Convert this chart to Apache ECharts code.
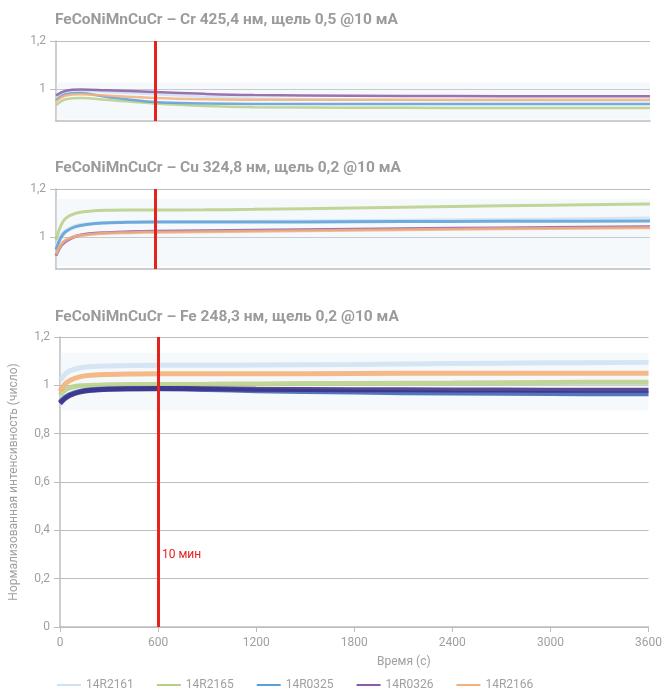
<!DOCTYPE html>
<html>
<head>
<meta charset="utf-8">
<script src="https://cdn.jsdelivr.net/npm/echarts@6/dist/echarts.min.js"></script>
<style>
  html, body { margin: 0; padding: 0; background: #fff; }
  #main { width: 665px; height: 694px; }
</style>
</head>
<body>
<div id="main"></div>
<script>
// названия образцов
var sampleNames = ['14R2161', '14R2165', '14R0325', '14R0326', '14R2166']
var panelTitles = [
  'FeCoNiMnCuCr – Cr 425,4 нм, щель 0,5 @10 мА',
  'FeCoNiMnCuCr – Cu 324,8 нм, щель 0,2 @10 мА',
  'FeCoNiMnCuCr – Fe 248,3 нм, щель 0,2 @10 мА'
]
var markerTime = 600
var markerLabel = '10 мин'

// Cr 425,4
var timeCr = [0, 60, 150, 300, 600, 900, 1200, 1800, 2400, 3000, 3600]
var cr14R2161 = [0.970, 0.990, 0.995, 0.990, 0.980, 0.970, 0.963, 0.958, 0.956, 0.955, 0.955]
var cr14R2165 = [0.935, 0.960, 0.965, 0.958, 0.942, 0.932, 0.927, 0.925, 0.924, 0.924, 0.924]
var cr14R0325 = [0.955, 0.980, 0.985, 0.970, 0.948, 0.942, 0.940, 0.940, 0.940, 0.940, 0.940]
var cr14R0326 = [0.975, 0.995, 1.000, 0.997, 0.990, 0.982, 0.977, 0.974, 0.973, 0.972, 0.972]
var cr14R2166 = [0.950, 0.975, 0.980, 0.975, 0.965, 0.960, 0.958, 0.958, 0.958, 0.958, 0.958]

// Cu 324,8
var timeCu = [0, 30, 60, 120, 200, 300, 450, 600, 900, 1200, 1800, 2400, 3000, 3600]
var cu14R2161 = [0.960, 1.010, 1.030, 1.050, 1.058, 1.062, 1.064, 1.065, 1.066, 1.067, 1.070, 1.073, 1.076, 1.080]
var cu14R2165 = [0.990, 1.050, 1.080, 1.100, 1.108, 1.112, 1.113, 1.113, 1.114, 1.116, 1.122, 1.128, 1.133, 1.138]
var cu14R0325 = [0.950, 1.000, 1.025, 1.045, 1.055, 1.060, 1.063, 1.064, 1.064, 1.064, 1.065, 1.066, 1.067, 1.068]
var cu14R0326 = [0.925, 0.965, 0.985, 1.005, 1.015, 1.020, 1.024, 1.026, 1.028, 1.030, 1.034, 1.038, 1.041, 1.044]
var cu14R2166 = [0.930, 0.970, 0.990, 1.005, 1.012, 1.017, 1.020, 1.022, 1.024, 1.026, 1.030, 1.034, 1.037, 1.040]

// Fe 248,3
var timeFe = [0, 30, 60, 120, 200, 300, 450, 600, 900, 1200, 1800, 2400, 3000, 3600]
var fe14R2161 = [1.020, 1.045, 1.060, 1.072, 1.078, 1.080, 1.082, 1.083, 1.083, 1.084, 1.086, 1.090, 1.093, 1.095]
var fe14R2165 = [0.960, 0.980, 0.990, 0.998, 1.000, 1.002, 1.003, 1.003, 1.004, 1.006, 1.008, 1.010, 1.012, 1.013]
var fe14R0325 = [0.930, 0.950, 0.962, 0.975, 0.982, 0.985, 0.986, 0.986, 0.983, 0.978, 0.972, 0.968, 0.966, 0.965]
var fe14R0326 = [0.925, 0.945, 0.958, 0.972, 0.980, 0.984, 0.986, 0.987, 0.986, 0.984, 0.982, 0.981, 0.980, 0.980]
var fe14R2166 = [0.975, 1.005, 1.020, 1.035, 1.042, 1.045, 1.047, 1.048, 1.048, 1.048, 1.049, 1.050, 1.050, 1.050]

// бледная полоса шума
var bandCr = [0.875, 1.03]
var bandCu = [0.88, 1.16]
var bandFe = [0.895, 1.135]

var colors = ['#cfe2f2', '#b8cf86', '#5b9fd6', '#8a5aa6', '#f5b07a']
var colorsFe = ['#cfe2f2', '#b8cf86', '#3560b0', '#3b2d86', '#f5ad72']

var panels = [
  { time: timeCr, data: [cr14R2161, cr14R2165, cr14R0325, cr14R0326, cr14R2166], band: bandCr, width: 2.5, colors: colors },
  { time: timeCu, data: [cu14R2161, cu14R2165, cu14R0325, cu14R0326, cu14R2166], band: bandCu, width: 3, colors: colors },
  { time: timeFe, data: [fe14R2161, fe14R2165, fe14R0325, fe14R0326, fe14R2166], band: bandFe, width: 5, colors: colorsFe }
]

var gray = '#a0a0a0'
var lineGray = '#bdbdbd'
var fmt = function (v) { return String(Math.round(v * 10) / 10).replace('.', ',') }

var myChart = echarts.init(document.getElementById('main'))

var grids = [
  { left: 56, width: 594, top: 41, height: 80 },
  { left: 56, width: 594, top: 189, height: 80 },
  { left: 56, width: 594, top: 337, height: 290 }
]

var xAxes = grids.map(function (g, i) {
  var last = i === 2
  return {
    type: 'value',
    gridIndex: i,
    min: 0,
    max: 3600,
    interval: 600,
    axisLine: { show: true, lineStyle: { color: lineGray, width: 1.5 } },
    axisTick: { show: last, length: 5, inside: false, lineStyle: { color: lineGray } },
    axisLabel: { show: last, color: gray, fontSize: 12, margin: 10, formatter: function (v) { return String(v) } },
    splitLine: { show: false }
  }
})

var yAxes = grids.map(function (g, i) {
  var last = i === 2
  var ax = {
    type: 'value',
    gridIndex: i,
    axisLine: { show: true, lineStyle: { color: lineGray, width: 1.5 } },
    axisTick: { show: true, length: 6, lineStyle: { color: lineGray } },
    axisLabel: { color: gray, fontSize: 12, margin: 10, formatter: fmt },
    splitLine: { show: true, lineStyle: { color: lineGray, width: 1 } }
  }
  if (last) {
    ax.min = 0
    ax.max = 1.2
    ax.interval = 0.2
    ax.name = 'Нормализованная интенсивность (число)'
    ax.nameLocation = 'middle'
    ax.nameGap = 40
    ax.nameTextStyle = { color: gray, fontSize: 12 }
  } else {
    ax.min = 0.87
    ax.max = 1.2
    ax.axisLabel.customValues = [1, 1.2]
    ax.axisTick.customValues = [1, 1.2]
  }
  return ax
})

var series = []
panels.forEach(function (p, gi) {
  p.data.forEach(function (vals, si) {
    var s = {
      name: sampleNames[si],
      type: 'line',
      xAxisIndex: gi,
      yAxisIndex: gi,
      smooth: 0.4,
      showSymbol: false,
      color: p.colors[si],
      lineStyle: { width: p.width, color: p.colors[si], opacity: 0.85 },
      data: p.time.map(function (t, k) { return [t, vals[k]] }),
      z: 2
    }
    if (si === 0) {
      s.markArea = {
        silent: true,
        itemStyle: { color: 'rgba(226, 236, 244, 0.3)' },
        data: [[{ yAxis: p.band[0] }, { yAxis: p.band[1] }]]
      }
      s.markLine = {
        silent: true,
        symbol: 'none',
        label: { show: false },
        lineStyle: { color: '#e5221c', width: 3, type: 'solid' },
        data: [{ xAxis: markerTime }],
        z: 10
      }
    }
    series.push(s)
  })
})

var option = {
  animation: false,
  textStyle: { fontFamily: 'Roboto' },
  title: panelTitles.map(function (t, i) {
    return {
      text: t,
      left: 50,
      top: [7, 155, 304][i],
      textStyle: { fontSize: 15.5, fontWeight: 'bold', color: '#9b9b9b', fontFamily: 'Roboto' }
    }
  }),
  legend: {
    data: sampleNames,
    left: 52,
    top: 674,
    icon: 'rect',
    itemWidth: 24,
    itemHeight: 2,
    itemGap: 23,
    textStyle: { color: gray, fontSize: 12 }
  },
  grid: grids,
  xAxis: xAxes,
  yAxis: yAxes,
  graphic: [
    {
      type: 'text',
      left: 377,
      top: 656,
      style: { text: 'Время (с)', fill: gray, fontSize: 12, fontFamily: 'Roboto' }
    },
    {
      type: 'text',
      left: 162,
      top: 549,
      style: { text: markerLabel, fill: '#e5221c', fontSize: 12, fontFamily: 'Roboto' }
    }
  ],
  series: series
}

myChart.setOption(option)
</script>
</body>
</html>
